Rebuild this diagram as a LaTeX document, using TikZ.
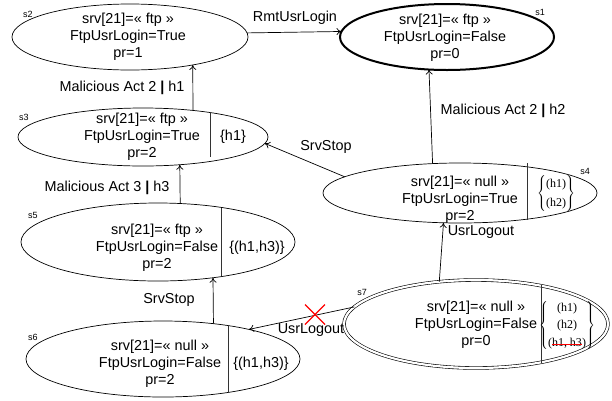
\documentclass[tikz,border=0pt]{standalone}
\usepackage{fontspec}
\setmainfont{Liberation Sans}
\newfontfamily\serifset{Liberation Serif}
\usetikzlibrary{shapes.geometric,arrows.meta}
\newsavebox\strikebox
\newcommand\redstrike[1]{\sbox\strikebox{#1}\rlap{\usebox\strikebox}\textcolor{red}{\rule[0.22ex]{\wd\strikebox}{0.9pt}}}
\newcommand\sepbar{{\bfseries |}}
\begin{document}
\begin{tikzpicture}[x=1pt,y=-1pt,
  state/.style={draw, ellipse, inner sep=0pt, outer sep=0pt, line width=0.7pt},
  txt/.style={align=center, font=\fontsize{14.4}{17}\selectfont, inner sep=0pt},
  lbl/.style={font=\fontsize{14.4}{17}\selectfont, inner sep=0pt},
  tag/.style={font=\fontsize{9}{10}\selectfont, inner sep=0pt},
  setf/.style={inner sep=0pt, font=\serifset\fontsize{12}{19}\selectfont},
  arr/.style={-{To[length=5pt,width=7pt]}, line width=0.7pt},
  divider/.style={line width=0.7pt, draw=black!80}]
\useasboundingbox (0,0) rectangle (612,400);

% states
\node[state, minimum width=236pt, minimum height=66pt] (s2) at (130,37) {};
\node[state, line width=2pt, minimum width=214pt, minimum height=66pt] (s1) at (447,37) {};
\node[state, minimum width=250pt, minimum height=58pt] (s3) at (143,137) {};
\node[state, minimum width=274pt, minimum height=60pt] (s4) at (460,193) {};
\node[state, minimum width=274pt, minimum height=78pt] (s5) at (158,242) {};
\node[state, minimum width=274pt, minimum height=76pt] (s6) at (163,359) {};
\node[state, double, double distance=2.2pt, line width=0.6pt, minimum width=264pt, minimum height=88pt] (s7) at (476,324) {};

% state texts
\node[txt] (s2t) at (128,37) {srv[21]=« ftp »\\FtpUsrLogin=True\\pr=1};
\node[txt] (s1t) at (445,38) {srv[21]=« ftp »\\FtpUsrLogin=False\\pr=0};
\node[txt] (s3t) at (142,137) {srv[21]=« ftp »\\FtpUsrLogin=True\\pr=2};
\node[txt] (s4t) at (460,200) {srv[21]=« null »\\FtpUsrLogin=True\\pr=2};
\node[txt] (s5t) at (157,248) {srv[21]=« ftp »\\FtpUsrLogin=False\\pr=2};
\node[txt] (s6t) at (160,364) {srv[21]=« null »\\FtpUsrLogin=False\\pr=2};
\node[txt] (s7t) at (476,325) {srv[21]=« null »\\FtpUsrLogin=False\\pr=0};

% dividers
\draw[divider] (210,112) -- (210,157);
\draw[divider] (527,163) -- (527,220);
\draw[divider] (221,208) -- (221,276);
\draw[divider] (228,325) -- (228,393);
\draw[divider] (541,285) -- (541,363);

% sets
\node[txt] (s3set) at (233,137) {\{h1\}};
\node[txt] (s5set) at (257,248) {\{(h1,h3)\}};
\node[txt] (s6set) at (261,364) {\{(h1,h3)\}};
\node[setf] (s4set) at (556,193) {$\left\{\mbox{\begin{tabular}{@{}c@{}}(h1)\\(h2)\end{tabular}}\right\}$};
\node[setf, font=\serifset\fontsize{12}{17.5}\selectfont] (s7set) at (567,325) {$\left\{\mbox{\begin{tabular}{@{}c@{}}(h1)\\(h2)\\(\redstrike{h1, h3})\end{tabular}}\right\}$};

% state tags
\node[tag] (tag1) at (540,12) {s1};
\node[tag] (tag2) at (28,14) {s2};
\node[tag] (tag3) at (24,117) {s3};
\node[tag] (tag4) at (585,171) {s4};
\node[tag] (tag5) at (33,215) {s5};
\node[tag] (tag6) at (33,337) {s6};
\node[tag] (tag7) at (362,292) {s7};

% transitions
\draw[arr] (s2.2) -- (s1.177.8);
\draw[arr] (s3.28) -- (s2.336.1);
\draw[arr] (s5.60.3) -- (s3.323.2);
\draw[arr] (s4.172) -- (s3.357);
\draw[arr] (s4.133.3) -- (s1.241);
\draw[arr] (s7.131.6) -- (s4.241.8);
\draw[arr] (s7.172.2) -- (s6.19.3);
\draw[arr] (s6.35.3) -- (s5.327);

% red cross
\coordinate (xc) at (315,314.5);
\draw[red, line width=1.1pt] ([shift={(-10,-10)}]xc) -- ([shift={(10,10)}]xc)
  ([shift={(-10,10)}]xc) -- ([shift={(10,-10)}]xc);

% transition labels
\node[lbl] (l21) at (295,18) {RmtUsrLogin};
\node[lbl] (l32) at (122,88) {Malicious Act 2 \sepbar{} h1};
\node[lbl] (l53) at (107,188) {Malicious Act 3 \sepbar{} h3};
\node[lbl] (l43) at (326,147) {SrvStop};
\node[lbl] (l41) at (503,111) {Malicious Act 2 \sepbar{} h2};
\node[lbl] (l74) at (481,232) {UsrLogout};
\node[lbl] (l76) at (311,330) {UsrLogout};
\node[lbl] (l65) at (169,300) {SrvStop};
\end{tikzpicture}
\end{document}
